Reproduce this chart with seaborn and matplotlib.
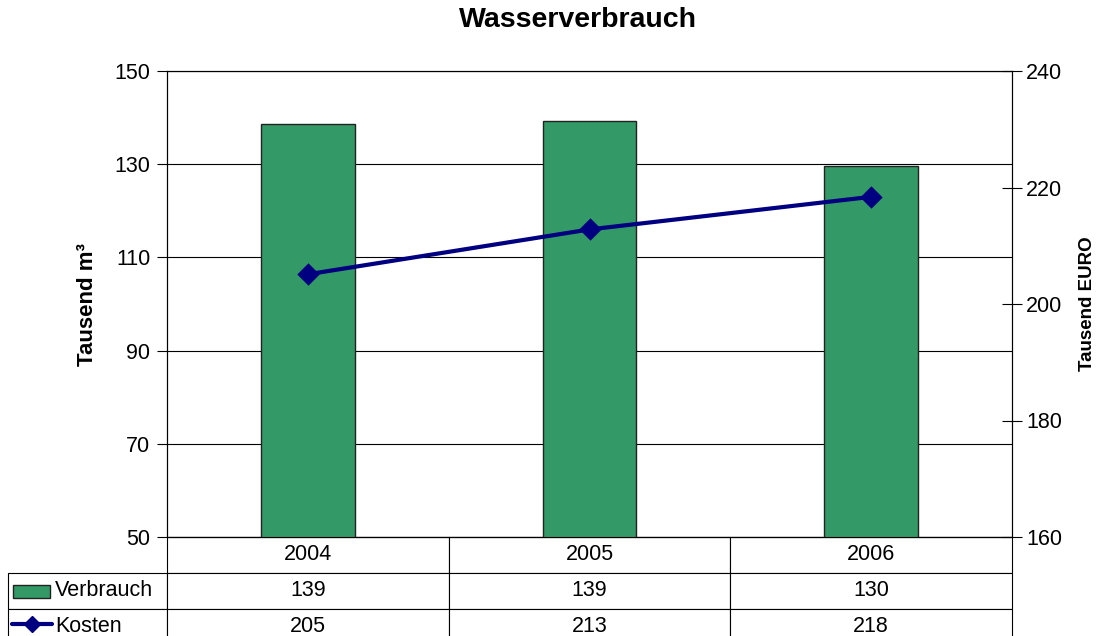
import pandas as pd
import seaborn as sns
import matplotlib.pyplot as plt
from matplotlib.patches import Rectangle
from matplotlib.lines import Line2D

years = ['2004', '2005', '2006']
verbrauch = [138.7, 139.3, 129.7]   # Tausend m³
kosten = [205.1, 212.8, 218.4]      # Tausend EURO

bar_color = '#339966'
line_color = '#000080'

df = pd.DataFrame({'Jahr': years, 'Verbrauch': verbrauch, 'Kosten': kosten})

sns.set_theme(style='white')
plt.rcParams['font.family'] = ['Liberation Sans', 'DejaVu Sans']
plt.rcParams['text.color'] = 'black'
plt.rcParams['axes.labelcolor'] = 'black'
plt.rcParams['ytick.color'] = 'black'

fig = plt.figure(figsize=(11, 6.36), dpi=100)
ax = fig.add_axes([167 / 1100, 99 / 636, 845 / 1100, 466 / 636])

sns.barplot(data=df, x='Jahr', y='Verbrauch', color=bar_color, saturation=1,
            width=0.333, edgecolor='#222222', linewidth=1, ax=ax, zorder=3)
ax.set_ylim(50, 150)
ax.set_xlim(-0.5, 2.5)
ax.set_yticks([50, 70, 90, 110, 130, 150])
ax.yaxis.grid(True, color='black', linewidth=0.8, zorder=0)
ax.set_axisbelow(True)
ax.set_xticks([])
ax.set_xlabel('')
ax.set_ylabel('Tausend m³', fontsize=16, fontweight='bold', labelpad=12)
ax.tick_params(axis='y', direction='out', length=7, width=0.8, color='black',
               labelsize=15.5, left=True, pad=5)
for s in ax.spines.values():
    s.set_color('black')
    s.set_linewidth(0.8)

ax2 = ax.twinx()
sns.pointplot(data=df, x='Jahr', y='Kosten', color=line_color, markers='D',
              linewidth=3, markersize=9, ax=ax2)
ax2.set_ylim(160, 240)
ax2.set_xlim(-0.5, 2.5)
ax2.set_yticks([160, 180, 200, 220, 240])
ax2.set_xticks([])
ax2.set_xlabel('')
ax2.set_ylabel('Tausend EURO', fontsize=13.5, fontweight='bold', labelpad=12)
ax2.tick_params(axis='y', direction='inout', length=14, width=0.8, color='black',
                labelsize=15.5, right=True, pad=3)
for s in ax2.spines.values():
    s.set_color('black')
    s.set_linewidth(0.8)

# data table below the plot
cells = [[''] + years,
         ['Verbrauch'] + [f'{v:.0f}' for v in verbrauch],
         ['Kosten'] + [f'{v:.0f}' for v in kosten]]
lab_w = 159 / 845
tbl = ax.table(cellText=cells, cellLoc='center',
               colWidths=[lab_w, 1 / 3, 1 / 3, 1 / 3],
               bbox=[-lab_w, -108 / 466, 1 + lab_w, 108 / 466])
tbl.auto_set_font_size(False)
tbl.set_fontsize(15.5)
for (r, c), cell in tbl.get_celld().items():
    cell.set_edgecolor('black')
    cell.set_linewidth(0.8)
    cell.get_text().set_color('black')
    if c == 0:
        if r == 0:
            cell.visible_edges = ''
        else:
            cell._loc = 'left'
            cell._text.set_horizontalalignment('left')
            cell.PAD = 47 / 159

# legend keys inside the table
fig.add_artist(Rectangle((13 / 1100, 1 - 598 / 636), 37 / 1100, 13 / 636,
                         transform=fig.transFigure, facecolor=bar_color,
                         edgecolor='#222222', linewidth=1))
fig.add_artist(Line2D([12 / 1100, 52 / 1100], [1 - 624 / 636, 1 - 624 / 636],
                      transform=fig.transFigure, color=line_color, linewidth=3))
fig.add_artist(Line2D([32 / 1100], [1 - 624 / 636], transform=fig.transFigure,
                      color=line_color, marker='D', markersize=8, linestyle=''))

fig.text(578 / 1100, 1 - 20 / 636, 'Wasserverbrauch', ha='center', va='center',
         fontsize=20.5, fontweight='bold')

fig.savefig('out.png', dpi=100, facecolor='white')
